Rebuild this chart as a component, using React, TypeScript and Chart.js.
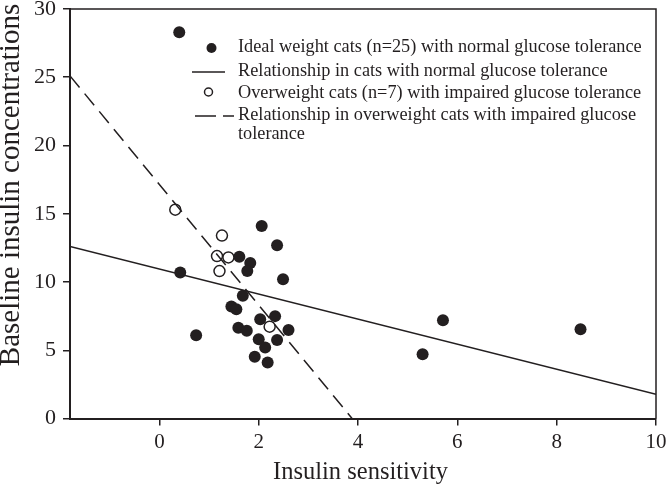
import { useEffect, useRef } from "react";
import { Chart, registerables } from "chart.js";

Chart.register(...registerables);

// ---- data ----
const idealX = [0.40, 2.06, 2.37, 1.61, 1.83, 1.77, 0.42, 2.49, 1.68, 1.45, 1.55, 2.33, 2.03, 1.59, 1.76, 2.60, 0.74, 2.00, 2.37, 2.13, 1.92, 2.18, 5.71, 5.30, 8.48];
const idealY = [28.3, 14.1, 12.7, 11.85, 11.4, 10.8, 10.7, 10.2, 9.0, 8.2, 8.0, 7.5, 7.27, 6.65, 6.43, 6.48, 6.1, 5.8, 5.75, 5.2, 4.53, 4.1, 7.2, 4.7, 6.53];
const overX = [0.32, 1.26, 1.16, 1.39, 1.21, 2.22];
const overY = [15.3, 13.4, 11.9, 11.8, 10.8, 6.73];
const normalLineX = [-1.8, 10];
const normalLineY = [12.6, 1.77];
const impairedLineX = [-1.8, 3.88];
const impairedLineY = [25.1, 0];
const xTicks = [0, 2, 4, 6, 8, 10];
const yTicks = [0, 5, 10, 15, 20, 25, 30];
const legendLines = [
  ["Ideal weight cats (n=25) with normal glucose tolerance"],
  ["Relationship in cats with normal glucose tolerance"],
  ["Overweight cats (n=7) with impaired glucose tolerance"],
  ["Relationship in overweight cats with impaired glucose", "tolerance"],
];
const xTitle = "Insulin sensitivity";
const yTitle = "Baseline insulin concentrations";

const INK = "#231f20";
const SERIF = "'Liberation Serif', 'Times New Roman', Times, serif";

const toPts = (xs: number[], ys: number[]) => xs.map((x, i) => ({ x, y: ys[i] }));

const decor = {
  id: "decor",
  afterDraw(chart: any) {
    const { ctx, chartArea } = chart;
    const { left, right, top, bottom } = chartArea;
    ctx.save();
    // top and right frame
    ctx.strokeStyle = INK;
    ctx.lineWidth = 1.5;
    ctx.beginPath();
    ctx.moveTo(left, top);
    ctx.lineTo(right, top);
    ctx.lineTo(right, bottom);
    ctx.stroke();

    // axis titles
    ctx.fillStyle = INK;
    ctx.font = `24.5px ${SERIF}`;
    ctx.textAlign = "center";
    ctx.textBaseline = "alphabetic";
    ctx.fillText(xTitle, 360.5, 479);

    ctx.save();
    ctx.translate(19, 185);
    ctx.rotate(-Math.PI / 2);
    ctx.font = `29px ${SERIF}`;
    ctx.textAlign = "center";
    ctx.textBaseline = "alphabetic";
    ctx.fillText(yTitle, 0, 0);
    ctx.restore();

    // legend
    const tx = 238;
    const rows = [47.5, 71, 93, 115.5];
    ctx.font = `18.3px ${SERIF}`;
    ctx.textAlign = "left";
    ctx.textBaseline = "middle";
    legendLines.forEach((lines, i) => {
      lines.forEach((t, j) => ctx.fillText(t, tx, rows[i] + j * 18.5));
    });
    // symbols
    ctx.beginPath();
    ctx.arc(211.5, 48, 5, 0, Math.PI * 2);
    ctx.fill();
    ctx.lineWidth = 1.5;
    ctx.beginPath();
    ctx.moveTo(192, 72);
    ctx.lineTo(225, 72);
    ctx.stroke();
    ctx.beginPath();
    ctx.arc(208.5, 92, 4, 0, Math.PI * 2);
    ctx.stroke();
    ctx.beginPath();
    ctx.moveTo(195, 116);
    ctx.lineTo(216, 116);
    ctx.moveTo(223, 116);
    ctx.lineTo(234, 116);
    ctx.stroke();
    ctx.restore();
  },
};

export default function App() {
  const ref = useRef<HTMLCanvasElement>(null);
  useEffect(() => {
    const chart = new Chart(ref.current!, {
      type: "scatter",
      data: {
        datasets: [
          {
            label: "Relationship in cats with normal glucose tolerance",
            data: toPts(normalLineX, normalLineY),
            showLine: true,
            borderColor: INK,
            borderWidth: 1.5,
            pointRadius: 0,
            fill: false,
          },
          {
            label: "Relationship in overweight cats with impaired glucose tolerance",
            data: toPts(impairedLineX, impairedLineY),
            showLine: true,
            borderColor: INK,
            borderWidth: 1.5,
            borderDash: [15, 8],
            pointRadius: 0,
            fill: false,
          },
          {
            label: "Overweight cats (n=7) with impaired glucose tolerance",
            data: toPts(overX, overY),
            pointRadius: 5.5,
            pointBackgroundColor: "#ffffff",
            pointBorderColor: INK,
            pointBorderWidth: 1.5,
          },
          {
            label: "Ideal weight cats (n=25) with normal glucose tolerance",
            data: toPts(idealX, idealY),
            pointRadius: 6,
            pointBackgroundColor: INK,
            pointBorderColor: INK,
            pointBorderWidth: 0,
          },
        ],
      } as any,
      options: {
        responsive: false,
        animation: false,
        devicePixelRatio: 1,
        layout: { padding: { left: 0, right: 10, top: 9, bottom: 0 } },
        plugins: { legend: { display: false }, tooltip: { enabled: false } },
        scales: {
          x: {
            type: "linear",
            min: -1.8,
            max: 10,
            afterBuildTicks: (s: any) => {
              s.ticks = xTicks.map((v) => ({ value: v }));
            },
            afterFit: (s: any) => {
              s.height = 69.5;
              s.paddingLeft = 0;
              s.paddingRight = 0;
            },
            grid: { drawOnChartArea: false, drawTicks: true, tickLength: 7, color: INK, lineWidth: 1.5 },
            border: { display: true, color: INK, width: 2 },
            ticks: { font: { family: SERIF, size: 21, lineHeight: 1 }, color: INK, padding: 6, maxRotation: 0, autoSkip: false },
          },
          y: {
            type: "linear",
            min: 0,
            max: 30,
            afterBuildTicks: (s: any) => {
              s.ticks = yTicks.map((v) => ({ value: v }));
            },
            afterFit: (s: any) => {
              s.width = 70;
              s.paddingTop = 0;
              s.paddingBottom = 0;
            },
            grid: { drawOnChartArea: false, drawTicks: true, tickLength: 7, color: INK, lineWidth: 1.5 },
            border: { display: true, color: INK, width: 2 },
            ticks: { font: { family: SERIF, size: 22, lineHeight: 0.8 }, color: INK, padding: 7, autoSkip: false },
          },
        },
      } as any,
      plugins: [decor],
    });
    return () => chart.destroy();
  }, []);
  return (
    <div style={{ position: "fixed", left: 0, top: 0, width: 666, height: 488, background: "#ffffff" }}>
      <canvas ref={ref} width={666} height={488} style={{ display: "block", width: 666, height: 488 }} />
    </div>
  );
}
